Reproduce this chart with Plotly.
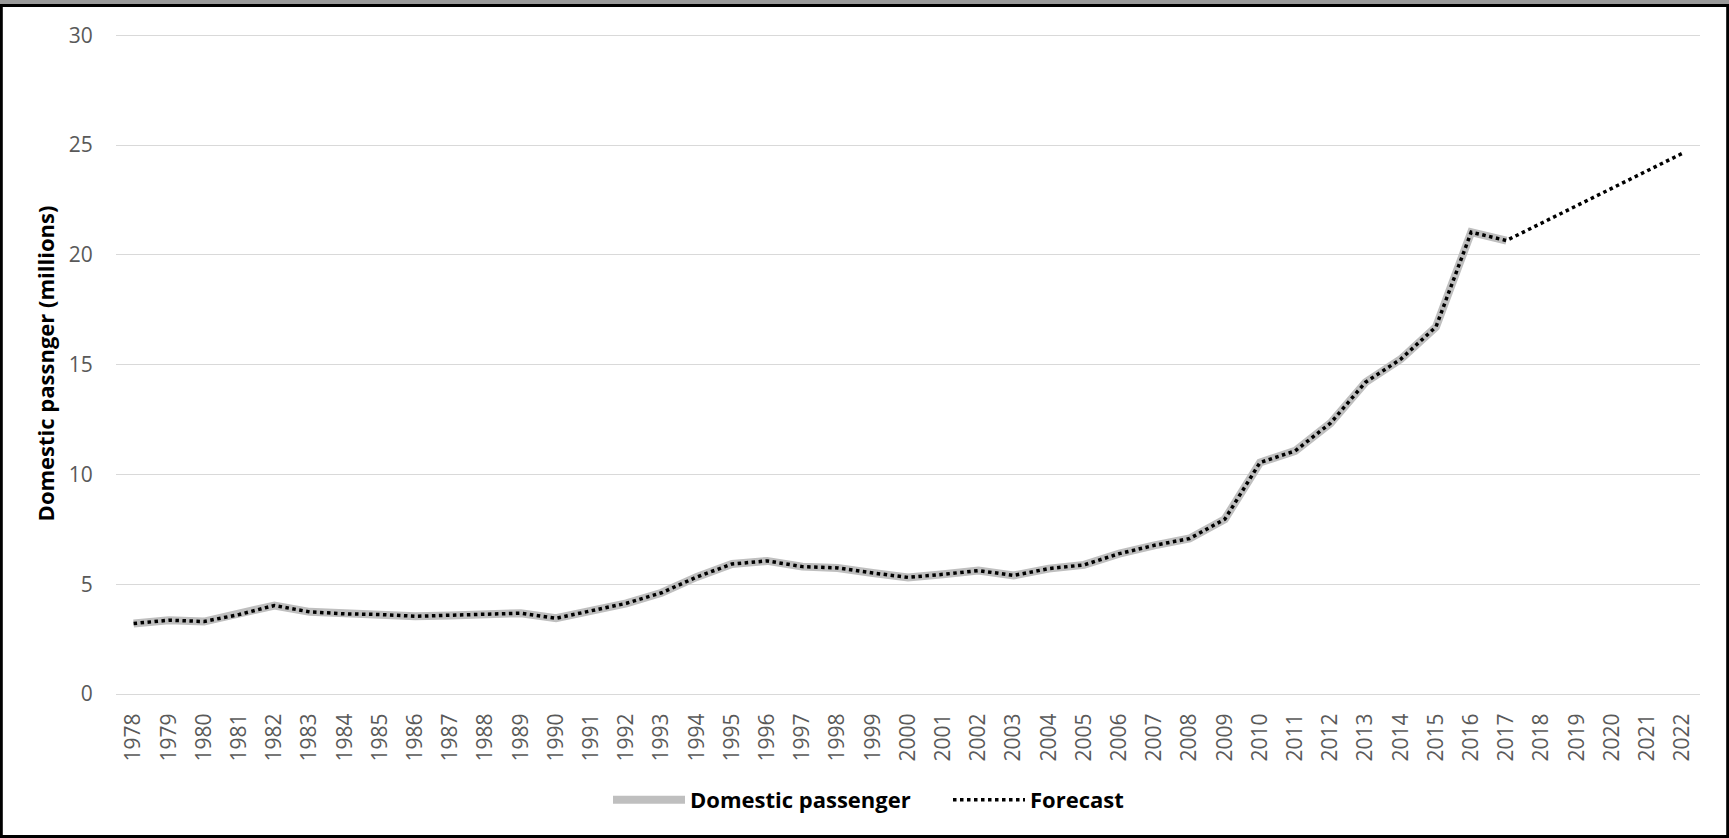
import plotly.graph_objects as go

# Years on the category axis
years = [str(y) for y in range(1978, 2023)]

# Recorded domestic passengers (millions), 1978-2017
passengers = [
    3.21, 3.36, 3.30, 3.62, 4.03, 3.74, 3.65, 3.62, 3.54, 3.58,
    3.60, 3.68, 3.45, 3.81, 4.13, 4.61, 5.33, 5.92, 6.06, 5.80,
    5.74, 5.51, 5.31, 5.45, 5.62, 5.40, 5.71, 5.88, 6.39, 6.77,
    7.08, 7.96, 10.54, 11.07, 12.33, 14.20, 15.25, 16.72, 21.03, 20.65,
]

# Projected values, 2018-2022
forecast_tail = [21.44, 22.24, 23.03, 23.82, 24.62]

y_ticks = [0, 5, 10, 15, 20, 25, 30]

W, H = 1729, 838
ML, MR, MT, MB = 116, 29, 33, 144
PW, PH = W - ML - MR, H - MT - MB


def px_x(p):
    return (p - ML) / PW


def px_y(p):
    return (H - MB - p) / PH


fig = go.Figure()

fig.add_trace(go.Scatter(
    x=years[:len(passengers)],
    y=passengers,
    name="Domestic passenger",
    mode="lines",
    line=dict(color="#BFBFBF", width=8),
))

fig.add_trace(go.Scatter(
    x=years,
    y=passengers + forecast_tail,
    name="Forecast",
    mode="lines",
    line=dict(color="#000000", width=3.5, dash="dot"),
))

tick_font = dict(family="Open Sans", size=21, color="#595959")

fig.update_layout(
    width=W,
    height=H,
    margin=dict(l=ML, r=MR, t=MT, b=MB, autoexpand=False),
    paper_bgcolor="white",
    plot_bgcolor="white",
    showlegend=True,
    legend=dict(
        orientation="h",
        x=px_x(948),
        xanchor="center",
        y=px_y(800),
        yanchor="middle",
        font=dict(family="Open Sans", size=22, color="#000000", weight="bold"),
        itemwidth=72,
        entrywidth=253,
        bgcolor="rgba(0,0,0,0)",
    ),
    xaxis=dict(
        type="category",
        range=[-0.5, len(years) - 0.5],
        tickmode="array",
        tickvals=years,
        ticktext=years,
        tickangle=-90,
        tickfont=tick_font,
        showgrid=False,
        showline=False,
        zeroline=False,
        ticks="outside",
        ticklen=10,
        tickcolor="rgba(0,0,0,0)",
        fixedrange=True,
    ),
    yaxis=dict(
        range=[0, 30.1],
        tickmode="array",
        tickvals=y_ticks,
        tickfont=tick_font,
        showgrid=True,
        gridcolor="#D9D9D9",
        gridwidth=1.3,
        zeroline=True,
        zerolinecolor="#D9D9D9",
        zerolinewidth=1.3,
        showline=False,
        ticks="outside",
        ticklen=18,
        tickcolor="rgba(0,0,0,0)",
        title=dict(
            text="Domestic passnger (millions)",
            font=dict(family="Open Sans", size=22, color="#000000", weight="bold"),
            standoff=8,
        ),
        fixedrange=True,
    ),
    shapes=[
        # grey strip along the top edge
        dict(type="rect", xref="paper", yref="paper",
             x0=px_x(0), x1=px_x(W), y0=px_y(0), y1=px_y(4.5),
             fillcolor="#9A9A9A", line=dict(width=0), layer="above"),
        # black frame around the chart
        dict(type="rect", xref="paper", yref="paper",
             x0=px_x(1.3), x1=px_x(W - 1.3), y0=px_y(5.6), y1=px_y(H - 1.5),
             line=dict(color="#000000", width=3), fillcolor="rgba(0,0,0,0)",
             layer="above"),
    ],
)

fig.write_html("out.html")
